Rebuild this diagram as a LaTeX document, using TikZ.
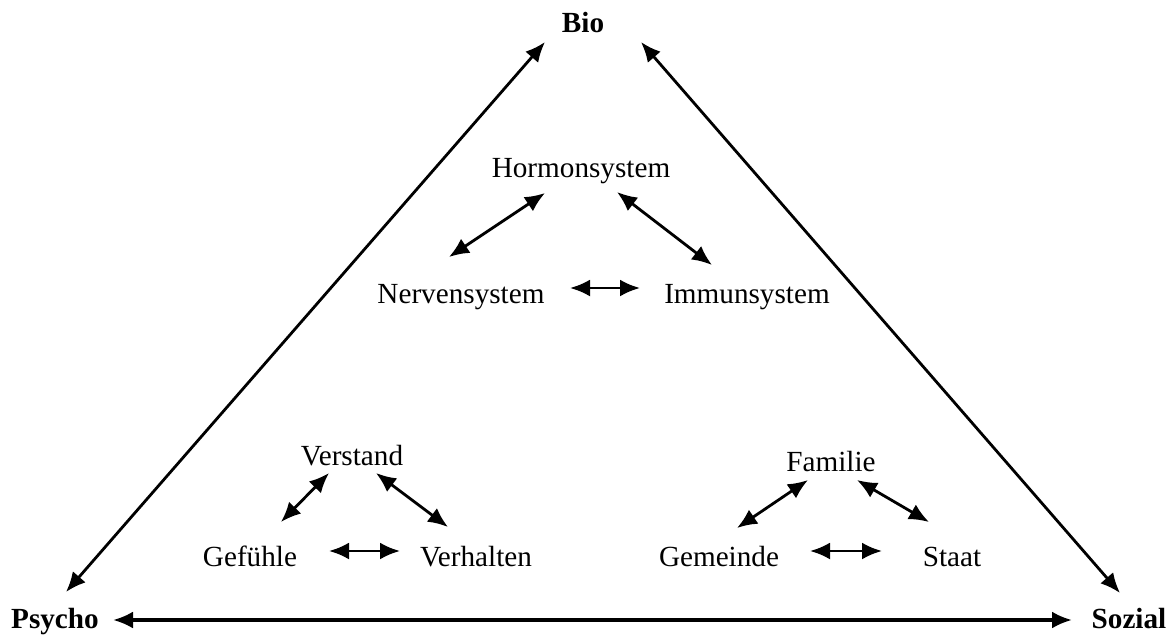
\documentclass[tikz,border=0pt]{standalone}
\usepackage{fontspec}
\setmainfont{Liberation Serif}
\usetikzlibrary{arrows.meta}

\begin{document}
\begin{tikzpicture}[x=0.5pt, y=-0.5pt,
    word/.style = {anchor=base, inner sep=0, font=\fontsize{14.6}{17}\selectfont},
    pole/.style = {word, font=\fontsize{14.6}{17}\selectfont\bfseries},
    link/.style = {{Latex[length=10pt,width=8.5pt]}-{Latex[length=10pt,width=8.5pt]}, line width=1.4pt}]
    \useasboundingbox (0,0) rectangle (1175,634);

    % the three corners
    \node [pole] (bio)    at (583,32)   {Bio};
    \node [pole] (psycho) at (55,628)   {Psycho};
    \node [pole] (sozial) at (1129,628) {Sozial};

    % bio
    \node [word] (hormon) at (581,177) {Hormonsystem};
    \node [word] (nerven) at (461,303) {Nervensystem};
    \node [word] (immun)  at (747,303) {Immunsystem};

    % psycho
    \node [word] (verstand)  at (352,465) {Verstand};
    \node [word] (gefuehle)  at (250,566) {Gefühle};
    \node [word] (verhalten) at (476,566) {Verhalten};

    % sozial
    \node [word] (familie)  at (831,471) {Familie};
    \node [word] (gemeinde) at (719,566) {Gemeinde};
    \node [word] (staat)    at (952,566) {Staat};

    \draw [link] ([shift={(-38,10)}]bio.base) -- ([shift={(11,-36)}]psycho.base);
    \draw [link] ([shift={(58,10)}]bio.base) -- ([shift={(-9,-35)}]sozial.base);
    \draw [link, line width=1.6pt] ([shift={(58,-8)}]psycho.base) -- ([shift={(-57,-8)}]sozial.base);

    \draw [link] ([shift={(-36,16)}]hormon.base) -- ([shift={(-12,-46)}]nerven.base);
    \draw [link] ([shift={(36,15)}]hormon.base) -- ([shift={(-35,-38)}]immun.base);
    \draw [link] ([shift={(109,-15)}]nerven.base) -- ([shift={(-107,-15)}]immun.base);

    \draw [link] ([shift={(-23,8)}]verstand.base) -- ([shift={(31,-44)}]gefuehle.base);
    \draw [link] ([shift={(24,8)}]verstand.base) -- ([shift={(-28,-39)}]verhalten.base);
    \draw [link] ([shift={(79,-15)}]gefuehle.base) -- ([shift={(-76,-15)}]verhalten.base);

    \draw [link] ([shift={(-23,9)}]familie.base) -- ([shift={(18,-38)}]gemeinde.base);
    \draw [link] ([shift={(26,9)}]familie.base) -- ([shift={(-23,-44)}]staat.base);
    \draw [link] ([shift={(91,-15)}]gemeinde.base) -- ([shift={(-70,-15)}]staat.base);
\end{tikzpicture}
\end{document}
